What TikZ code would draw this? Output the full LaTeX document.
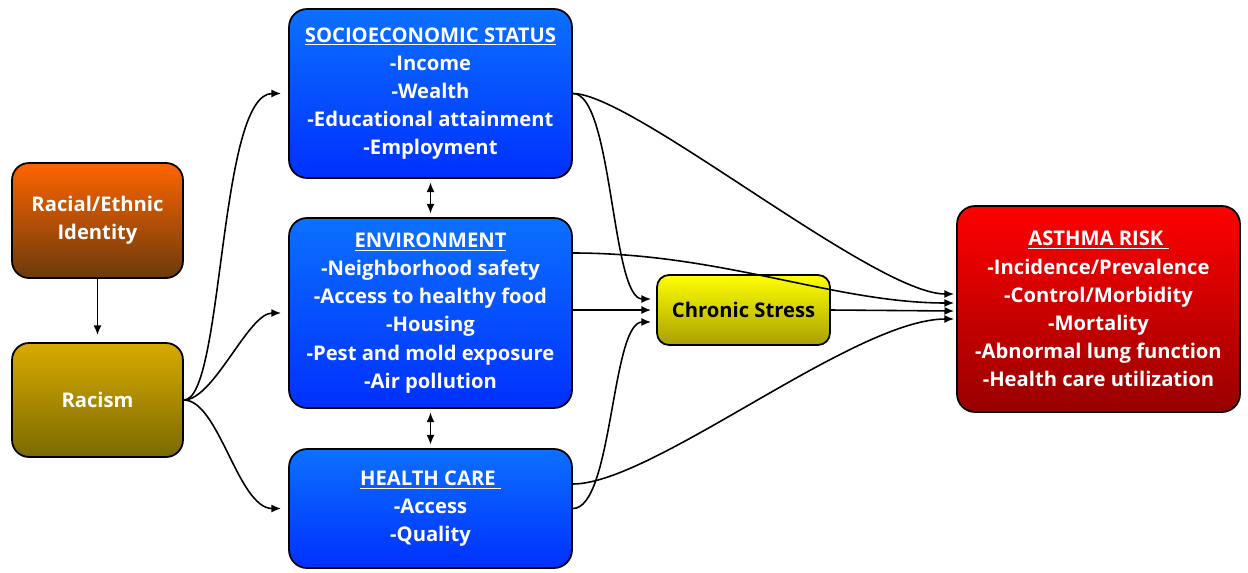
\documentclass[tikz,border=0pt]{standalone}
\usepackage{fontspec}
\setmainfont{Open Sans}
\usepackage{xcolor}
\usetikzlibrary{arrows.meta,calc}

\definecolor{blueTop}{RGB}{12,112,255}
\definecolor{blueBot}{RGB}{0,48,255}
\definecolor{idTop}{RGB}{255,100,0}
\definecolor{idBot}{RGB}{108,58,12}
\definecolor{racTop}{RGB}{216,170,0}
\definecolor{racBot}{RGB}{122,106,0}
\definecolor{stressTop}{RGB}{255,255,0}
\definecolor{stressBot}{RGB}{168,160,0}
\definecolor{riskTop}{RGB}{255,0,0}
\definecolor{riskBot}{RGB}{152,0,0}

\tikzset{
  box/.style={draw=black, line width=1pt, align=center, text=white, inner sep=0pt,
    font=\bfseries\fontsize{11.5}{16}\selectfont},
  bluebox/.style={box, top color=blueTop, bottom color=blueBot,
    rounded corners=0.36cm, minimum width=5.66cm},
  arr/.style={-{Latex[length=5.5pt,width=4.5pt]}, line width=0.9pt},
  twoway/.style={{Latex[length=5.5pt,width=4.5pt]}-{Latex[length=5.5pt,width=4.5pt]}, line width=0.9pt,
    shorten <=2pt, shorten >=2pt}
}

\begin{document}
\begin{tikzpicture}[x=0.02cm, y=-0.02cm]
  \useasboundingbox (0,0) rectangle (1248,572);

  % Left column
  \node[box, top color=idTop, bottom color=idBot, rounded corners=0.34cm,
    minimum width=3.42cm, minimum height=2.30cm] (identity) at (97.5,220.5)
    {Racial/Ethnic\\Identity};
  \node[box, top color=racTop, bottom color=racBot, rounded corners=0.34cm,
    minimum width=3.42cm, minimum height=2.28cm] (racism) at (97.5,400) {Racism};

  % Middle column
  \node[bluebox, minimum height=3.38cm] (ses) at (430.5,93.5)
    {\underline{SOCIOECONOMIC STATUS}\\-Income\\-Wealth\\-Educational attainment\\-Employment};
  \node[bluebox, minimum height=3.80cm] (env) at (430.5,313)
    {\underline{ENVIRONMENT}\\-Neighborhood safety\\-Access to healthy food\\-Housing\\-Pest and mold exposure\\-Air pollution};
  \node[bluebox, minimum height=2.38cm] (care) at (430.5,508.5)
    {\underline{HEALTH CARE\ }\\-Access\\-Quality};

  % Stress and outcome
  \node[box, text=black, top color=stressTop, bottom color=stressBot, rounded corners=0.24cm,
    minimum width=3.46cm, minimum height=1.40cm] (stress) at (743.5,310) {Chronic Stress};
  \node[box, top color=riskTop, bottom color=riskBot, rounded corners=0.36cm,
    minimum width=5.66cm, minimum height=4.12cm] (risk) at (1098.5,309)
    {\underline{ASTHMA RISK\ }\\-Incidence/Prevalence\\-Control/Morbidity\\-Mortality\\-Abnormal lung function\\-Health care utilization};

  % Entry and exit points
  \coordinate (r1) at ($(risk.west)+(-2,-15)$);
  \coordinate (r2) at ($(risk.west)+(-2,-6)$);
  \coordinate (r3) at ($(risk.west)+(-2,2)$);
  \coordinate (r4) at ($(risk.west)+(-2,10)$);
  \coordinate (s1) at ($(stress.west)+(-5,-11)$);
  \coordinate (s2) at ($(stress.west)+(-5,0)$);
  \coordinate (s3) at ($(stress.west)+(-5,12)$);
  \coordinate (e1) at ($(env.east)+(0,-60)$);
  \coordinate (e2) at ($(env.east)+(0,-3)$);
  \coordinate (c1) at ($(care.east)+(0,-24.5)$);

  % Arrows out of racism
  \draw[arr, shorten >=4pt] (identity) -- (racism);
  \draw[arr, shorten >=4pt] (racism.east) .. controls +(40,0) and +(-70,0) .. (ses.west);
  \draw[arr, shorten >=4pt] (racism.east) .. controls +(30,0) and +(-40,0) .. (env.west);
  \draw[arr, shorten >=4pt] (racism.east) .. controls +(35,0) and +(-50,0) .. (care.west);

  % Links between the blue boxes
  \draw[twoway] (ses) -- (env);
  \draw[twoway] (env) -- (care);

  % Arrows into chronic stress
  \draw[arr] (ses.east) .. controls +(40,0) and +(-40,0) .. (s1);
  \draw[arr] (e2) -- (s2);
  \draw[arr] (care.east) .. controls +(40,0) and +(-40,0) .. (s3);

  % Arrows into asthma risk
  \draw[arr] (ses.east) .. controls +(60,0) and +(-80,0) .. (r1);
  \draw[arr] (e1) .. controls +(150,0) and +(-120,0) .. (r2);
  \draw[arr] (stress.east) -- (r3);
  \draw[arr] (c1) .. controls +(80,0) and +(-100,0) .. (r4);
\end{tikzpicture}
\end{document}
